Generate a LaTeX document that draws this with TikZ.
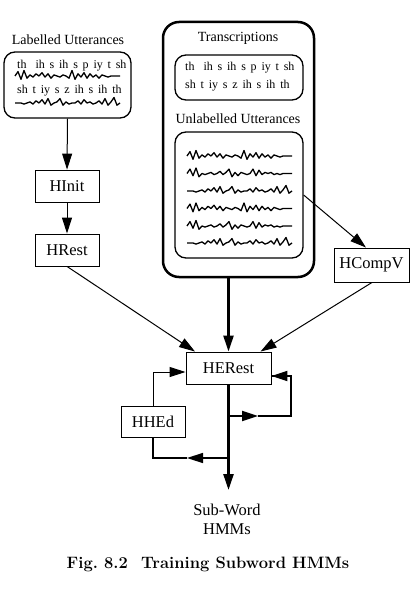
\documentclass[tikz,border=0pt]{standalone}
\usepackage{fontspec}
\newfontfamily\tfont{Liberation Serif}
\usetikzlibrary{arrows.meta}
\def\pA{-4,3,-5,2,-1,1,-2,0,-3,1,-2,2,-1,0,1,-1,0,2,-5,3,-2,1,-3,2,-2,1,-1,2,-1,0,1,0,0,0,0}
\def\pB{-4,2,-5,3,0,1,0,-1,1,0,-2,1,-1,-4,3,-1,2,-1,0,1,0,-4,2,-3,1,-1,0,-1,1,0,1,0,0,0,0}
\def\pC{0,0,1,0,-1,1,-2,0,-3,1,-4,2,0,-1,-4,2,-1,1,0,0,-2,1,-3,0,-1,1,0,-2,1,-4,2,-1,-5,2,0}
\newcommand\wavepath[3]{\draw[wave] (#1,#2) \foreach \v [count=\i] in #3 {-- (#1+3*\i,#2+1.1*\v)};}
\newcommand\wsp{\spaceskip=0.4em plus 0.1em\relax}
\begin{document}
\begin{tikzpicture}[x=1pt,y=-1pt,
  lbl/.style={font=\tfont\fontsize{16.5}{19}\selectfont},
  box/.style={draw,line width=0.9pt,inner sep=0pt,lbl},
  rbox/.style={draw,line width=1.3pt,rounded corners=11pt,inner sep=0pt},
  title/.style={font=\tfont\fontsize{14}{16}\selectfont},
  trans/.style={font=\tfont\fontsize{12}{14}\selectfont,inner sep=0pt},
  wave/.style={line width=1.3pt,line join=round},
  arr/.style={-{Triangle[length=16pt,width=10pt]}},
  thinl/.style={line width=1pt},
  midl/.style={line width=1.5pt},
  thickl/.style={line width=2.4pt}]
\useasboundingbox (0,0) rectangle (412,599);

% left group
\node[title] (labt) at (68,40) {Labelled Utterances};
\node[rbox, minimum width=127pt, minimum height=66pt] (lbox) at (67.5,85) {};
\node[trans, anchor=base west] (l1) at (17,69) {\wsp th\hspace{0.35em} ih s ih s p iy t sh};
\node[trans, anchor=base west] (l2) at (17,94) {\wsp sh t iy s z ih s ih th};
\wavepath{15}{76}{\pA}
\wavepath{15}{103}{\pC}

\node[box, minimum width=64pt, minimum height=32pt] (HInit) at (67,186) {HInit};
\node[box, minimum width=64pt, minimum height=32pt] (HRest) at (67,250) {HRest};

% big group
\node[draw, line width=2.5pt, rounded corners=16pt, minimum width=151pt, minimum height=255pt, inner sep=0pt] (big) at (238.5,149.5) {};
\node[title] (tt) at (238,38) {Transcriptions};
\node[rbox, minimum width=128pt, minimum height=45pt] (tbox) at (239,77.5) {};
\node[trans, anchor=base west] (t1) at (185,71) {\wsp th\hspace{0.35em} ih s ih s p iy t sh};
\node[trans, anchor=base west] (t2) at (185,89) {\wsp sh t iy s z ih s ih th};
\node[title] (ut) at (238,119) {Unlabelled Utterances};
\node[rbox, minimum width=128pt, minimum height=126pt] (ubox) at (239,195) {};
\wavepath{187}{156}{\pA}
\wavepath{187}{173.5}{\pB}
\wavepath{187}{191}{\pC}
\wavepath{187}{208.5}{\pA}
\wavepath{187}{226}{\pB}
\wavepath{187}{243}{\pC}

\node[box, minimum width=75pt, minimum height=34pt] (HCompV) at (371.5,265) {HCompV};
\node[box, minimum width=85pt, minimum height=32pt] (HERest) at (228.5,368) {HERest};
\node[box, minimum width=64pt, minimum height=31pt] (HHEd) at (153,421.5) {HHEd};
\node[lbl, align=center, inner sep=0pt] (sw) at (227,519) {Sub-Word\\HMMs};
\node[font=\fontsize{16.5}{19}\bfseries\selectfont] (cap) at (208,564) {Fig.\ 8.2\hspace{0.8em}Training Subword HMMs};

% connectors
\draw[thinl,arr] (lbox.south) -- (HInit.north);
\draw[thinl,arr] (HInit.south) -- (HRest.north);
\draw[thinl,arr] (HRest.south) -- ([xshift=-33.5pt]HERest.north);
\draw[thickl,arr] (HERest.north |- big.south) -- (HERest.north);
\draw[thinl,arr] (ubox.east) -- ([xshift=-5.5pt]HCompV.north);
\draw[thinl,arr] ([xshift=0.5pt]HCompV.south) -- ([xshift=32pt]HERest.north);

\coordinate (out) at (228.5,490);
\coordinate (j1) at (228.5,416);
\coordinate (m1) at (258,416);
\coordinate (r1) at (291,416);
\coordinate (r2) at (291,376);
\coordinate (j2) at (228.5,458);
\coordinate (m2) at (187,458);
\coordinate (lt) at (153,372);

\draw[thickl,arr] (HERest.south) -- (out);
\draw[line width=2pt] (m1) -- (r1) -- (r2) -- (HERest.east |- r2);
\draw[line width=2pt,arr] (j1) -- (m1);
\draw[line width=2pt,arr] (r2) -- (HERest.east |- r2);
\draw[midl,arr] (j2) -- (m2);
\draw[midl] (m2) -- (HHEd.south |- j2) -- (HHEd.south);
\draw[thinl,arr] (HHEd.north) -- (lt) -- (HERest.west |- lt);
\end{tikzpicture}
\end{document}
